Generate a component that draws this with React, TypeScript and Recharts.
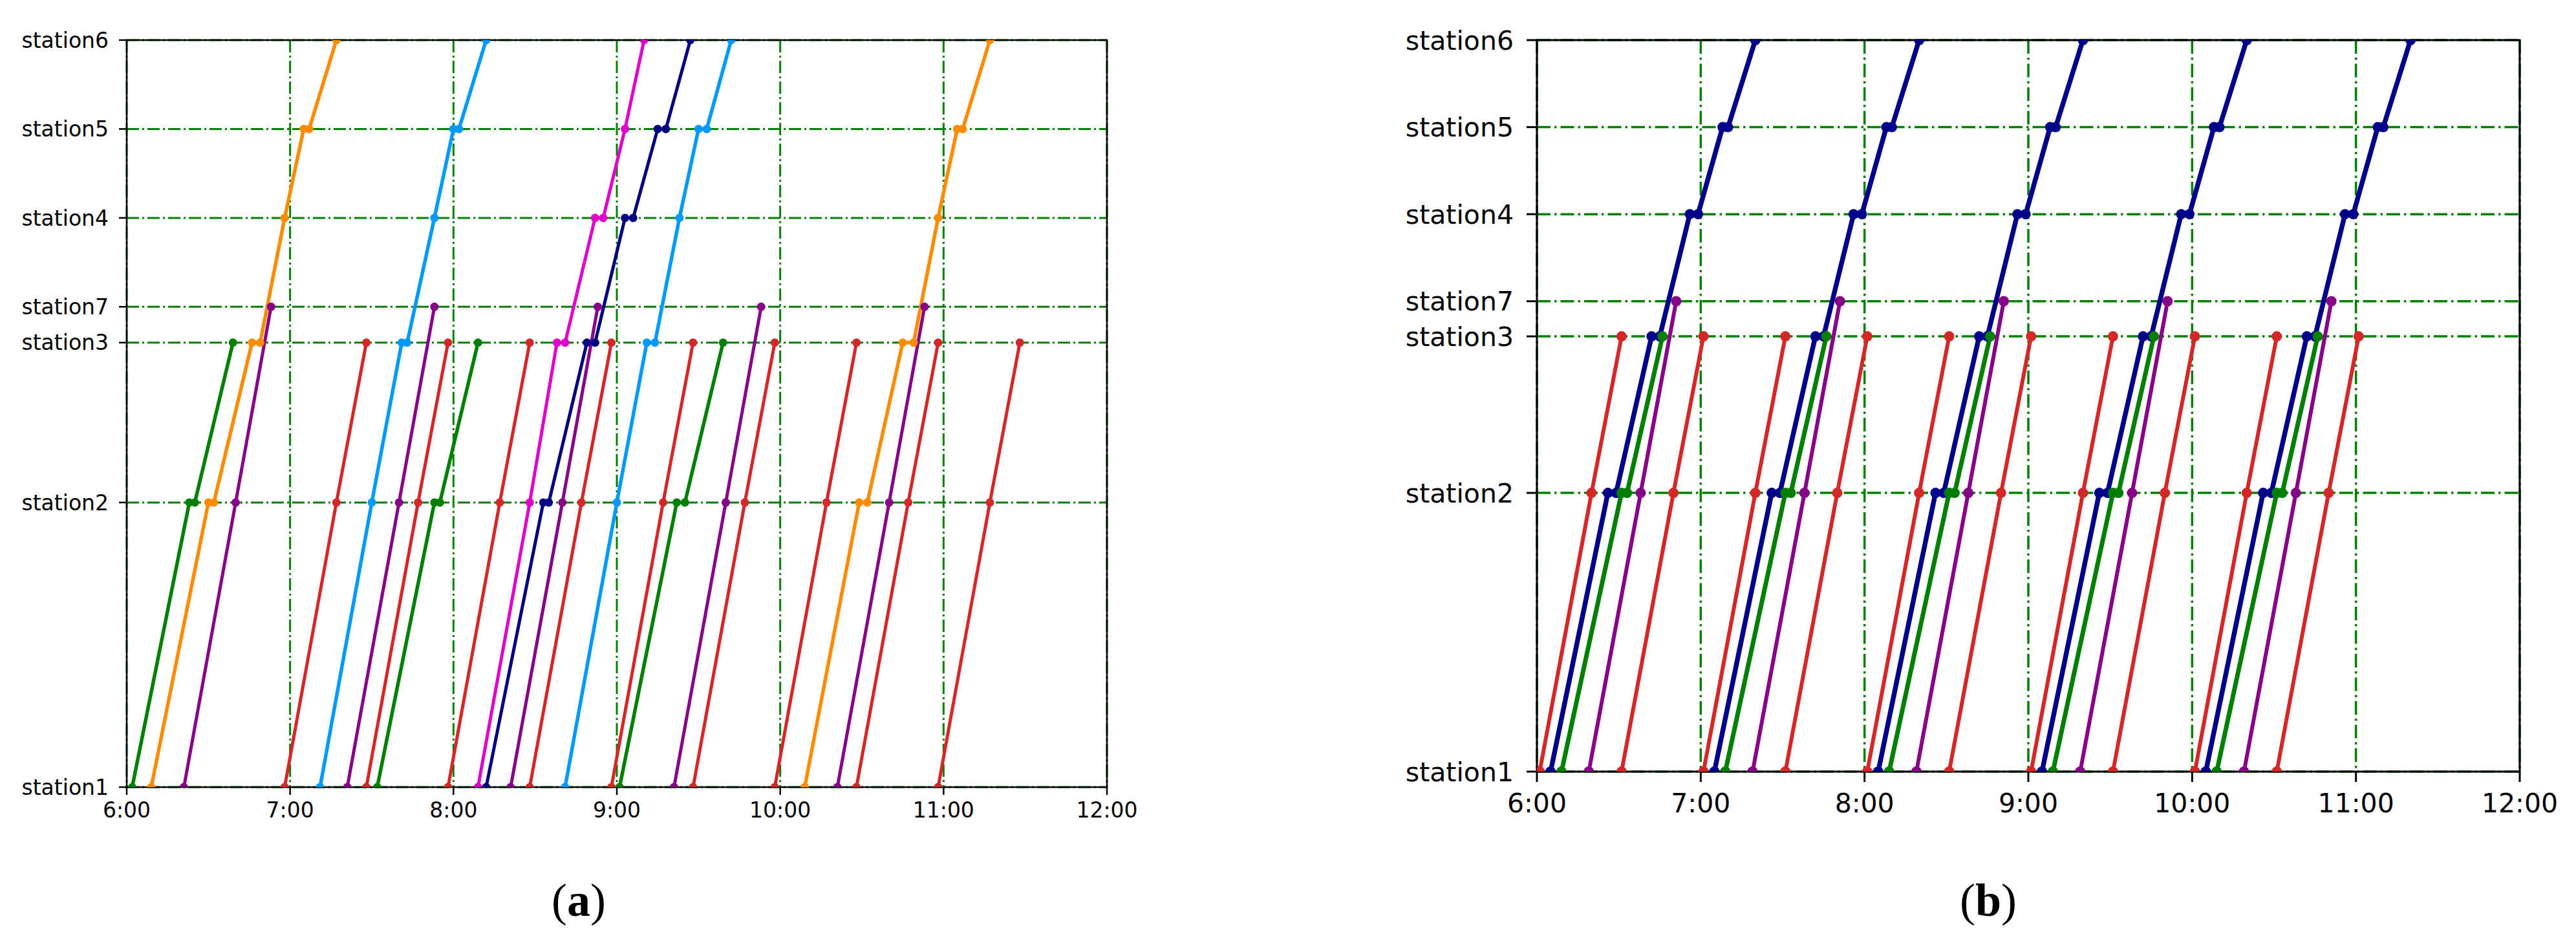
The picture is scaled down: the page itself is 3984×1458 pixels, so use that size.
import React from "react";
import { LineChart, Line, XAxis, YAxis, CartesianGrid, ReferenceArea } from "recharts";

// y axis: stations in the order they are stacked, and their position on the line
const stations = ["station1", "station2", "station3", "station7", "station4", "station5", "station6"];
const stationKm = [0, 38.1, 59.5, 64.3, 76.2, 88.1, 100];
const hourTicks = ["6:00", "7:00", "8:00", "9:00", "10:00", "11:00", "12:00"];

// one train = kind + stops (station number) + times at those stops
interface Train {
  kind: string;
  route: number[];
  times: string[];
}

// (a) timetable
const trainsA: Train[] = [
  { kind: "green", route: [1, 2, 2, 3], times: ["6:02", "6:23", "6:25", "6:39"] },
  { kind: "orange", route: [1, 2, 2, 3, 3, 4, 5, 5, 6], times: ["6:09", "6:30", "6:32", "6:46", "6:49", "6:58", "7:05", "7:07", "7:17"] },
  { kind: "purple", route: [1, 2, 7], times: ["6:21", "6:40", "6:53"] },
  { kind: "red", route: [1, 2, 3], times: ["6:58", "7:17", "7:28"] },
  { kind: "blue", route: [1, 2, 3, 3, 4, 5, 5, 6], times: ["7:11", "7:30", "7:41", "7:43", "7:53", "8:00", "8:02", "8:12"] },
  { kind: "purple", route: [1, 2, 7], times: ["7:21", "7:40", "7:53"] },
  { kind: "red", route: [1, 2, 3], times: ["7:28", "7:47", "7:58"] },
  { kind: "green", route: [1, 2, 2, 3], times: ["7:32", "7:53", "7:55", "8:09"] },
  { kind: "red", route: [1, 2, 3], times: ["7:58", "8:17", "8:28"] },
  { kind: "magenta", route: [1, 2, 3, 3, 4, 4, 5, 6], times: ["8:09", "8:28", "8:38", "8:41", "8:52", "8:55", "9:03", "9:10"] },
  { kind: "navy", route: [1, 2, 2, 3, 3, 4, 4, 5, 5, 6], times: ["8:12", "8:33", "8:35", "8:49", "8:52", "9:03", "9:06", "9:15", "9:18", "9:27"] },
  { kind: "purple", route: [1, 2, 7], times: ["8:21", "8:40", "8:53"] },
  { kind: "red", route: [1, 2, 3], times: ["8:28", "8:47", "8:58"] },
  { kind: "blue", route: [1, 2, 3, 3, 4, 5, 5, 6], times: ["8:41", "9:00", "9:11", "9:14", "9:23", "9:30", "9:33", "9:42"] },
  { kind: "red", route: [1, 2, 3], times: ["8:58", "9:17", "9:28"] },
  { kind: "green", route: [1, 2, 2, 3], times: ["9:01", "9:22", "9:25", "9:39"] },
  { kind: "purple", route: [1, 2, 7], times: ["9:21", "9:40", "9:53"] },
  { kind: "red", route: [1, 2, 3], times: ["9:28", "9:47", "9:58"] },
  { kind: "red", route: [1, 2, 3], times: ["9:58", "10:17", "10:28"] },
  { kind: "orange", route: [1, 2, 2, 3, 3, 4, 5, 5, 6], times: ["10:09", "10:29", "10:32", "10:45", "10:49", "10:58", "11:05", "11:07", "11:17"] },
  { kind: "purple", route: [1, 2, 7], times: ["10:21", "10:40", "10:53"] },
  { kind: "red", route: [1, 2, 3], times: ["10:28", "10:47", "10:58"] },
  { kind: "red", route: [1, 2, 3], times: ["10:58", "11:17", "11:28"] },
];

// (b) timetable
const trainsB: Train[] = [
  { kind: "red", route: [1, 2, 3], times: ["6:01", "6:20", "6:31"] },
  { kind: "navy", route: [1, 2, 2, 3, 3, 4, 4, 5, 5, 6], times: ["6:05", "6:26", "6:29", "6:42", "6:45", "6:56", "6:59", "7:08", "7:10", "7:20"] },
  { kind: "green", route: [1, 2, 2, 3], times: ["6:09", "6:31", "6:33", "6:46"] },
  { kind: "purple", route: [1, 2, 7], times: ["6:19", "6:38", "6:51"] },
  { kind: "red", route: [1, 2, 3], times: ["6:31", "6:50", "7:01"] },

  { kind: "red", route: [1, 2, 3], times: ["7:01", "7:20", "7:31"] },
  { kind: "navy", route: [1, 2, 2, 3, 3, 4, 4, 5, 5, 6], times: ["7:05", "7:26", "7:29", "7:42", "7:45", "7:56", "7:59", "8:08", "8:10", "8:20"] },
  { kind: "green", route: [1, 2, 2, 3], times: ["7:09", "7:31", "7:33", "7:46"] },
  { kind: "purple", route: [1, 2, 7], times: ["7:19", "7:38", "7:51"] },
  { kind: "red", route: [1, 2, 3], times: ["7:31", "7:50", "8:01"] },

  { kind: "red", route: [1, 2, 3], times: ["8:01", "8:20", "8:31"] },
  { kind: "navy", route: [1, 2, 2, 3, 3, 4, 4, 5, 5, 6], times: ["8:05", "8:26", "8:29", "8:42", "8:45", "8:56", "8:59", "9:08", "9:10", "9:20"] },
  { kind: "green", route: [1, 2, 2, 3], times: ["8:09", "8:31", "8:33", "8:46"] },
  { kind: "purple", route: [1, 2, 7], times: ["8:19", "8:38", "8:51"] },
  { kind: "red", route: [1, 2, 3], times: ["8:31", "8:50", "9:01"] },

  { kind: "red", route: [1, 2, 3], times: ["9:01", "9:20", "9:31"] },
  { kind: "navy", route: [1, 2, 2, 3, 3, 4, 4, 5, 5, 6], times: ["9:05", "9:26", "9:29", "9:42", "9:45", "9:56", "9:59", "10:08", "10:10", "10:20"] },
  { kind: "green", route: [1, 2, 2, 3], times: ["9:09", "9:31", "9:33", "9:46"] },
  { kind: "purple", route: [1, 2, 7], times: ["9:19", "9:38", "9:51"] },
  { kind: "red", route: [1, 2, 3], times: ["9:31", "9:50", "10:01"] },

  { kind: "red", route: [1, 2, 3], times: ["10:01", "10:20", "10:31"] },
  { kind: "navy", route: [1, 2, 2, 3, 3, 4, 4, 5, 5, 6], times: ["10:05", "10:26", "10:29", "10:42", "10:45", "10:56", "10:59", "11:08", "11:10", "11:20"] },
  { kind: "green", route: [1, 2, 2, 3], times: ["10:09", "10:31", "10:33", "10:46"] },
  { kind: "purple", route: [1, 2, 7], times: ["10:19", "10:38", "10:51"] },
  { kind: "red", route: [1, 2, 3], times: ["10:31", "10:50", "11:01"] },
];

const styleA: Record<string, { color: string; width: number }> = {
  green: { color: "#008000", width: 5.5 },
  orange: { color: "#ff8c00", width: 5.5 },
  purple: { color: "#880088", width: 5 },
  red: { color: "#d62728", width: 5 },
  blue: { color: "#0099ff", width: 5.5 },
  magenta: { color: "#e000cc", width: 5 },
  navy: { color: "#000080", width: 5 },
};

const styleB: Record<string, { color: string; width: number }> = {
  red: { color: "#d62728", width: 6 },
  navy: { color: "#00008b", width: 7.5 },
  green: { color: "#008000", width: 7 },
  purple: { color: "#880088", width: 6 },
};

const FONT = "'DejaVu Sans', sans-serif";
const GRID = "#008000";

function toMin(s: string) {
  const [h, m] = s.split(":").map(Number);
  return (h - 6) * 60 + m;
}

function stationName(v: number) {
  const i = stationKm.indexOf(v);
  return i >= 0 ? stations[i] : "";
}

interface PanelProps {
  trains: Train[];
  styles: Record<string, { color: string; width: number }>;
  width: number;
  height: number;
  margin: { top: number; right: number; bottom: number; left: number };
  yAxisWidth: number;
  xAxisHeight: number;
  fontSize: number;
  tickSize: number;
  yTickMargin: number;
  xTickMargin: number;
  dotR: number;
  gridWidth: number;
  dash: string;
  frameWidth: number;
}

function Timetable(p: PanelProps) {
  const xTicks = hourTicks.map((_, i) => i * 60);
  return (
    <LineChart width={p.width} height={p.height} margin={p.margin}>
      <CartesianGrid stroke={GRID} strokeDasharray={p.dash} strokeWidth={p.gridWidth} />
      <XAxis
        type="number"
        dataKey="t"
        domain={[0, 360]}
        ticks={xTicks}
        interval={0}
        allowDataOverflow
        tickFormatter={(v: number) => hourTicks[Math.round(v / 60)]}
        axisLine={false}
        tickLine={{ stroke: "#000", strokeWidth: p.frameWidth }}
        tickSize={p.tickSize}
        tickMargin={p.xTickMargin}
        tick={{ fill: "#000", fontSize: p.fontSize, fontFamily: FONT }}
        height={p.xAxisHeight}
      />
      <YAxis
        type="number"
        dataKey="y"
        domain={[0, 100]}
        ticks={stationKm}
        interval={0}
        allowDataOverflow
        tickFormatter={stationName}
        axisLine={false}
        tickLine={{ stroke: "#000", strokeWidth: p.frameWidth }}
        tickSize={p.tickSize}
        tickMargin={p.yTickMargin}
        tick={{ fill: "#000", fontSize: p.fontSize, fontFamily: FONT }}
        width={p.yAxisWidth}
      />
      {p.trains.map((tr, i) => {
        const st = p.styles[tr.kind];
        const data = tr.route.map((s, j) => ({
          t: toMin(tr.times[j]),
          y: stationKm[stations.indexOf(`station${s}`)],
        }));
        return (
          <Line
            key={`train-${i}`}
            data={data}
            dataKey="y"
            type="linear"
            stroke={st.color}
            strokeWidth={st.width}
            dot={{ r: p.dotR, fill: st.color, stroke: st.color, strokeWidth: 0 }}
            activeDot={false}
            isAnimationActive={false}
          />
        );
      })}
      <ReferenceArea
        x1={0}
        x2={360}
        y1={0}
        y2={100}
        fill="none"
        fillOpacity={0}
        stroke="#000"
        strokeWidth={p.frameWidth}
      />
    </LineChart>
  );
}

function Caption({ x, letter }: { x: number; letter: string }) {
  return (
    <div
      style={{
        position: "absolute",
        left: x - 100,
        top: 1352,
        width: 200,
        textAlign: "center",
        fontFamily: "'Liberation Serif', serif",
        fontSize: 72,
        lineHeight: "80px",
        color: "#000",
      }}
    >
      (<b>{letter}</b>)
    </div>
  );
}

export default function App() {
  return (
    <div
      style={{
        position: "absolute",
        left: 0,
        top: 0,
        width: 3984,
        height: 1458,
        background: "#fff",
        overflow: "hidden",
      }}
    >
      <div style={{ position: "absolute", left: 0, top: 0 }}>
        <Timetable
          trains={trainsA}
          styles={styleA}
          width={1760}
          height={1300}
          margin={{ top: 62, right: 48, bottom: 0, left: 0 }}
          yAxisWidth={196}
          xAxisHeight={83}
          fontSize={33}
          tickSize={12}
          yTickMargin={16}
          xTickMargin={12}
          dotR={6.5}
          gridWidth={3}
          dash="19 5 3 5"
          frameWidth={2.5}
        />
      </div>
      <div style={{ position: "absolute", left: 2150, top: 0 }}>
        <Timetable
          trains={trainsB}
          styles={styleB}
          width={1807}
          height={1293}
          margin={{ top: 62, right: 60, bottom: 0, left: 0 }}
          yAxisWidth={227}
          xAxisHeight={100}
          fontSize={41}
          tickSize={16}
          yTickMargin={20}
          xTickMargin={18}
          dotR={8}
          gridWidth={3.5}
          dash="21 6 3.5 6"
          frameWidth={3}
        />
      </div>
      <Caption x={895} letter="a" />
      <Caption x={3075} letter="b" />
    </div>
  );
}
